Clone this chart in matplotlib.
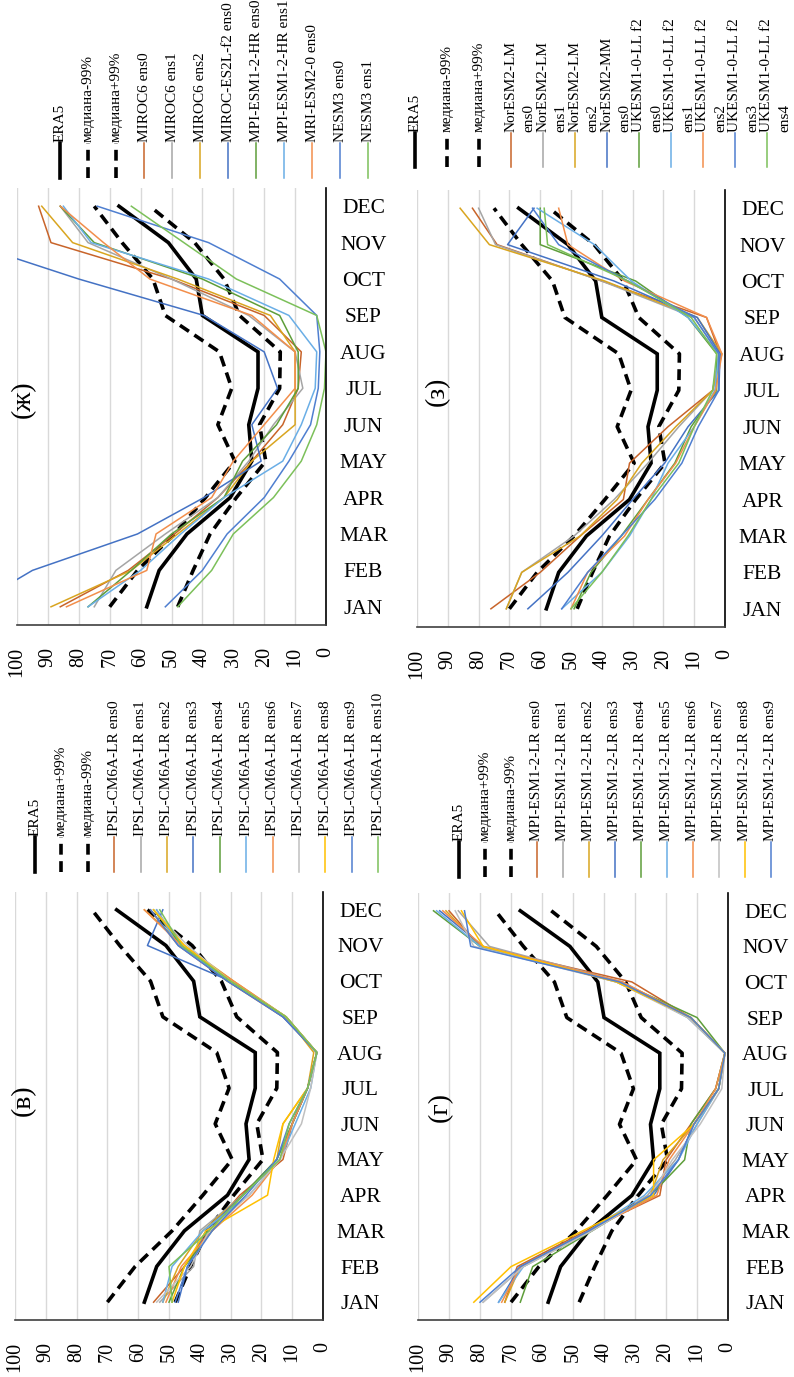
import matplotlib
matplotlib.use("Agg")
import matplotlib.pyplot as plt
import numpy as np

plt.rcParams["font.family"] = ["Liberation Serif", "DejaVu Serif"]

W, H = 794, 1377

months = ["JAN", "FEB", "MAR", "APR", "MAY", "JUN",
          "JUL", "AUG", "SEP", "OCT", "NOV", "DEC"]

# reference curves (same in every panel)
era5 = [58, 54, 45, 31, 24, 25, 22, 22, 40, 42, 51, 67]
med_plus = [70, 61, 49, 39, 29.5, 35, 30.5, 34.5, 52, 56, 66, 75]
med_minus = [48, 43, 37.5, 29, 19.5, 21.5, 15, 14.8, 28, 33, 42.5, 57]

# Excel-like colours
C_ORG = "#C8642A"
C_GRY = "#A5A5A5"
C_GLD = "#D9A520"
C_BLU = "#4472C4"
C_GRN = "#5E9E3A"
C_LBL = "#6AAEE6"
C_LOR = "#F28E4B"
C_LGR = "#C0C0C0"
C_YEL = "#FFC000"
C_BL2 = "#4F7FD0"
C_GR2 = "#7CC05A"

# panel (ж)
zh_names = ["MIROC6 ens0", "MIROC6 ens1", "MIROC6 ens2", "MIROC-ES2L-f2 ens0",
            "MPI-ESM1-2-HR ens0", "MPI-ESM1-2-HR ens1", "MRI-ESM2-0 ens0",
            "NESM3 ens0", "NESM3 ens1"]
zh_colors = [C_ORG, C_GRY, C_GLD, C_BLU, C_GRN, C_LBL, C_LOR, C_BL2, C_GR2]
zh_values = [
    [86, 64, 49, 35, 24, 14, 9, 8, 20, 50, 89, 93],
    [75, 68, 52, 35, 25, 17, 7.5, 10, 25, 50, 77, 86],
    [89, 63, 48, 33, 24, 10, 10, 10, 18, 48, 82, 92],
    [115, 95, 61, 39.5, 21, 24, 15.7, 20, 39.5, 80, 116, 130],
    [77, 63, 50, 33, 27, 16, 9, 9, 15, 40, 75, 86],
    [77, 60, 47, 33, 14, 8, 3.5, 3, 12, 38, 76, 85],
    [84, 58, 55, 37, 30, 20, 10, 10, 24, 57, 72, 86],
    [52, 40, 32, 20, 12, 5, 2.5, 2, 3, 15, 38, 74],
    [48, 37, 30, 17, 8, 3, 0.5, 0, 3, 29, 46, 63],
]

# panel (з)
z_names = ["NorESM2-LM\nens0", "NorESM2-LM\nens1", "NorESM2-LM\nens2",
           "NorESM2-MM\nens0", "UKESM1-0-LL f2\nens0", "UKESM1-0-LL f2\nens1",
           "UKESM1-0-LL f2\nens2", "UKESM1-0-LL f2\nens3", "UKESM1-0-LL f2\nens4"]
z_colors = [C_ORG, C_GRY, C_GLD, C_BLU, C_GRN, C_LBL, C_LOR, C_BL2, C_GR2]
z_values = [
    [76, 60, 47, 33, 31, 18.5, 4, 1.6, 6, 40, 74, 82],
    [71, 66, 49, 36, 25, 15, 4, 2, 10, 40, 74.5, 80],
    [71, 66, 47, 35, 27, 16, 4, 1, 9, 39, 76.5, 86],
    [64, 51, 40, 30, 19.6, 12, 2, 1.6, 9, 36, 70.6, 62],
    [49, 43.5, 33.7, 25, 16.3, 11, 2.7, 2.7, 12, 29, 60, 60],
    [53, 40, 31, 24, 18.5, 10, 3.3, 2, 12, 30.4, 42.4, 61],
    [50, 44.6, 32.6, 25, 16, 10, 3, 1, 6, 32.6, 51, 54],
    [53, 44.6, 33.7, 22.8, 14, 8.7, 2, 2, 10, 31.5, 54, 62.5],
    [50, 40, 31.5, 24, 15, 10, 4, 2.7, 11, 31.5, 57.6, 58.7],
]

# panel (в)
v_names = ["IPSL-CM6A-LR ens%d" % i for i in range(11)]
v_colors = [C_ORG, C_GRY, C_GLD, C_BLU, C_GRN, C_LBL, C_LOR, C_LGR, C_YEL, C_BL2, C_GR2]
v_values = [
    [55, 45, 37, 27, 13, 10, 5, 2, 13, 31, 47, 56],
    [53, 42, 40, 26, 14, 10, 5, 2, 12, 30, 46, 54],
    [52, 47, 39, 26, 15, 13, 5, 3, 12, 29, 45, 58],
    [47, 44, 38, 26, 15, 10, 5, 2, 13, 30, 57, 52],
    [50, 45, 36, 26, 15, 10, 5, 2, 12, 31, 46, 55],
    [52, 49, 39, 24, 14, 9, 4, 2, 12, 30, 47, 54],
    [51, 46, 36, 23, 14, 10, 5, 2, 12, 29, 46, 58],
    [54, 43, 37, 24, 14, 7, 4, 2, 12, 30, 44, 55],
    [49, 45, 38, 18, 16, 13, 5, 2, 12, 30, 45, 55],
    [48, 44, 36, 25, 15, 11, 5, 2, 13, 31, 47, 56],
    [49, 50, 37, 26, 14, 11, 5, 2, 12, 30, 46, 53],
]

# panel (г)
g_names = ["MPI-ESM1-2-LR ens%d" % i for i in range(10)]
g_colors = [C_ORG, C_GRY, C_GLD, C_BLU, C_GRN, C_LBL, C_LOR, C_LGR, C_YEL, C_BL2]
g_values = [
    [72, 68, 46, 22, 20, 12, 4, 1, 12, 31, 80, 90],
    [79, 66, 44, 26, 17, 10, 3, 1, 13, 34, 77, 87],
    [72, 67, 45, 25, 21, 11, 3, 1, 12, 35, 80, 91],
    [74, 67, 45, 24, 16, 11, 3, 1, 12, 36, 79, 93],
    [67, 63, 44, 25, 14, 12, 4, 1, 10, 35, 80, 95],
    [74, 66, 45, 27, 16, 10, 3, 1, 13, 35, 80, 94],
    [73, 67, 45, 23, 19, 11, 4, 1, 12, 34, 79, 92],
    [79, 66, 44, 25, 18, 9, 2, 1, 13, 36, 82, 88],
    [82, 70, 47, 24, 24, 11, 3, 1, 12, 36, 79, 86],
    [80, 67, 45, 25, 16, 11, 3, 1, 12, 35, 83, 85],
]

DASH = (0, (3, 1.8))

fig = plt.figure(figsize=(W / 100, H / 100), dpi=100)
ov = fig.add_axes([0, 0, 1, 1], zorder=5)
ov.set_xlim(0, W)
ov.set_ylim(H, 0)
ov.axis("off")


def draw_panel(box, tag, tag_xy, minus_first, names, values, colors, leg):
    x0, x1, ytop, ybot = box
    ax = fig.add_axes([x0 / W, 1 - ybot / H, (x1 - x0) / W, (ybot - ytop) / H])
    y = np.arange(12)
    ax.plot(era5, y, color="black", lw=2.6, solid_joinstyle="miter")
    ax.plot(med_plus, y, color="black", lw=2.6, ls=DASH)
    ax.plot(med_minus, y, color="black", lw=2.6, ls=DASH)
    for vals, c in zip(values, colors):
        ax.plot(vals, y, color=c, lw=1.1)

    ax.set_xlim(100, 0)
    ax.set_ylim(-0.5, 11.5)
    ax.set_xticks(range(0, 101, 10))
    ax.set_xticklabels([str(v) for v in range(0, 101, 10)], rotation=90, fontsize=14.5)
    ax.set_yticks(y)
    ax.set_yticklabels(months, fontsize=15.5)
    ax.yaxis.tick_right()
    for lab in ax.get_yticklabels():
        lab.set_horizontalalignment("center")
    ax.tick_params(axis="x", length=0, pad=15.5)
    ax.tick_params(axis="y", length=0, pad=27)
    ax.grid(axis="x", color="#D9D9D9", lw=1.0)
    ax.set_axisbelow(True)
    for s in ("top", "left"):
        ax.spines[s].set_visible(False)
    ax.spines["right"].set_color("black")
    ax.spines["right"].set_linewidth(1.2)
    ax.spines["bottom"].set_color("#404040")
    ax.spines["bottom"].set_linewidth(1.2)

    # legend: vertical markers with rotated text
    lx0, ldx, ly_top, ly_bot = leg
    ref_labels = ["медиана-99%", "медиана+99%"] if minus_first else ["медиана+99%", "медиана-99%"]
    entries = [("ERA5", "black", "-", 2.6)]
    entries += [(r, "black", DASH, 2.6) for r in ref_labels]
    entries += [(n, c, "-", 1.1) for n, c in zip(names, colors)]
    for i, (name, c, ls, lw) in enumerate(entries):
        x = lx0 + i * ldx
        ov.plot([x, x], [ly_bot, ly_top], color=c, ls=ls, lw=lw)
        parts = name.split("\n")
        for k, part in enumerate(parts):
            ov.text(x + k * 18, ly_top - 1, part, rotation=90, ha="center", va="bottom",
                    fontsize=11)

    ov.text(tag_xy[0], tag_xy[1], tag, rotation=90, ha="center", va="center", fontsize=20)


draw_panel((17, 326, 188, 625), "(ж)", (23, 399), True, zh_names, zh_values, zh_colors,
           (60, 28, 143, 178))
draw_panel((417, 725, 190, 627), "(з)", (437, 391), True, z_names, z_values, z_colors,
           (415, 32, 133, 167))
draw_panel((15, 323, 892, 1320), "(в)", (23, 1100), False, v_names, v_values, v_colors,
           (35, 26.4, 837, 872))
draw_panel((418, 728, 893, 1320), "(г)", (440, 1107), False, g_names, g_values, g_colors,
           (459, 26, 842, 877))

fig.savefig("out.png", dpi=100)
